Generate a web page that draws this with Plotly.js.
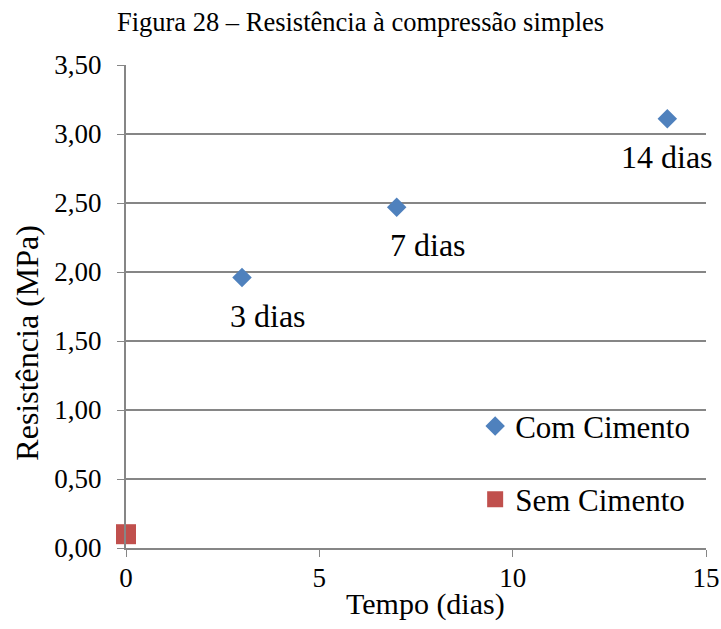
<!DOCTYPE html>
<html><head><meta charset="utf-8">
<script src="https://cdn.plot.ly/plotly-3.0.1.min.js"></script>
<style>html,body{margin:0;padding:0;background:#fff;}#chart{width:721px;height:629px;}</style>
</head><body><div id="chart"></div>
<script>
// Data
const comDias = [3, 7, 14];
const comResist = [1.96, 2.47, 3.11];
const comLabels = ["3 dias", "7 dias", "14 dias"];
const semDias = [0];
const semResist = [0.10];
const seriesNames = ["Com Cimento", "Sem Cimento"];
const xTicks = [0, 5, 10, 15];
const yTicks = [0, 0.5, 1.0, 1.5, 2.0, 2.5, 3.0, 3.5];
const xTitle = "Tempo (dias)";
const yTitle = "Resistência (MPa)";
const chartTitle = "Figura 28 – Resistência à compressão simples";

const FONT = "Liberation Serif";
const labelXShift = [26, 31, 0];

const traces = [
  {x: comDias, y: comResist, type: "scatter", mode: "markers", name: seriesNames[0],
   marker: {symbol: "diamond", size: 15, color: "#4F81BD"}, cliponaxis: false, legend: "legend"},
  {x: semDias, y: semResist, type: "scatter", mode: "markers", name: seriesNames[1],
   marker: {symbol: "square", size: 20, color: "#C0504D"}, cliponaxis: false, legend: "legend2"}
];

const annotations = comLabels.map((t, i) => ({
  x: comDias[i], y: comResist[i], xref: "x", yref: "y", text: t, showarrow: false,
  xanchor: "center", yanchor: "middle", xshift: labelXShift[i], yshift: -38,
  font: {family: FONT, size: 32, color: "#000"}
}));
annotations.push({
  xref: "paper", yref: "paper", x: -0.17, y: 0.426, text: yTitle, textangle: -90,
  showarrow: false, xanchor: "center", yanchor: "middle",
  font: {family: FONT, size: 32, color: "#000"}
});
annotations.push({
  xref: "paper", yref: "paper", x: 0.517, y: -0.116, text: xTitle,
  showarrow: false, xanchor: "center", yanchor: "middle",
  font: {family: FONT, size: 30, color: "#000"}
});

const layout = {
  width: 721, height: 629,
  margin: {l: 126, r: 15, t: 65, b: 81},
  paper_bgcolor: "#fff", plot_bgcolor: "#fff",
  separators: ",.",
  font: {family: FONT, color: "#000"},
  title: {text: chartTitle, xref: "container", x: 0.5,
          y: 0.965, yanchor: "middle", font: {family: FONT, size: 26.5, color: "#000"}},
  xaxis: {range: [0, 15], tickvals: xTicks, ticks: "outside", ticklen: 7, tickcolor: "#868686",
          showline: true, linecolor: "#868686", linewidth: 2, showgrid: false, zeroline: false,
          ticklabelstandoff: -2,
          tickfont: {family: FONT, size: 27, color: "#000"}},
  yaxis: {range: [0, 3.5], tickvals: yTicks, tickformat: ".2f", ticks: "outside", ticklen: 7,
          tickcolor: "#868686", showline: true, linecolor: "#868686", linewidth: 2,
          showgrid: true, gridcolor: "#868686", gridwidth: 1.5, zeroline: false,
          ticklabelstandoff: 10,
          tickfont: {family: FONT, size: 27, color: "#000"}},
  showlegend: true,
  legend: {x: 0.602, y: 0.252, xanchor: "left", yanchor: "middle", bgcolor: "rgba(0,0,0,0)",
           font: {family: FONT, size: 31, color: "#000"}},
  legend2: {x: 0.602, y: 0.1, xanchor: "left", yanchor: "middle", bgcolor: "rgba(0,0,0,0)",
           font: {family: FONT, size: 31, color: "#000"}},
  annotations: annotations
};

Plotly.newPlot("chart", traces, layout, {displayModeBar: false, staticPlot: true});
</script></body></html>
